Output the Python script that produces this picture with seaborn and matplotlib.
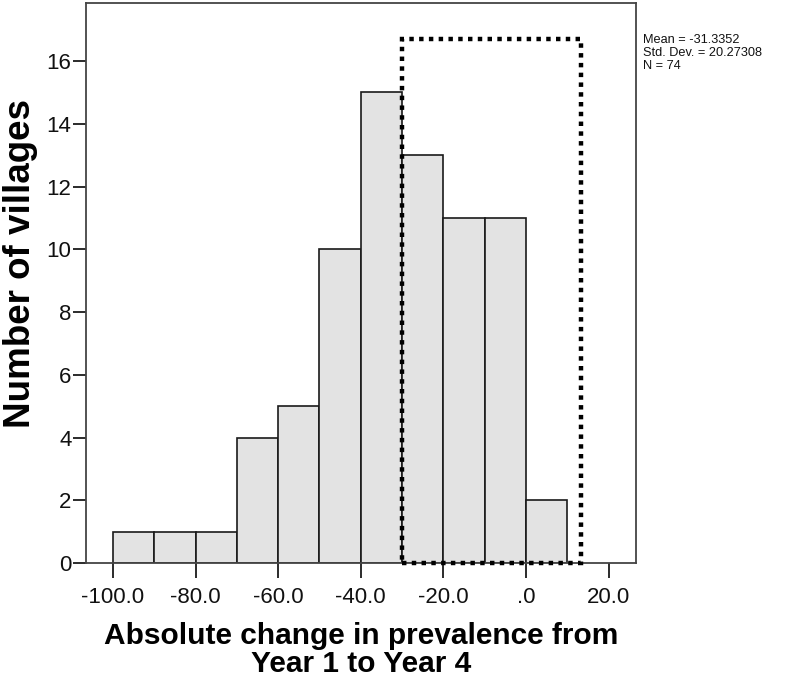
import matplotlib
matplotlib.use("Agg")
import matplotlib.pyplot as plt
import seaborn as sns
import numpy as np
import pandas as pd
from matplotlib.patches import Rectangle

# Data
bin_left = [-100, -90, -80, -70, -60, -50, -40, -30, -20, -10, 0]
counts = [1, 1, 1, 4, 5, 10, 15, 13, 11, 11, 2]
bin_width = 10
xtick_vals = [-100, -80, -60, -40, -20, 0, 20]
xtick_labels = ["-100.0", "-80.0", "-60.0", "-40.0", "-20.0", ".0", "20.0"]
ytick_vals = [0, 2, 4, 6, 8, 10, 12, 14, 16]
stats_text = "Mean = -31.3352\nStd. Dev. = 20.27308\nN = 74"
box_x = (-30, 13.3)
box_top = 16.7

sns.set_style("white")
plt.rcParams['font.family'] = ['Liberation Sans', 'DejaVu Sans']

df = pd.DataFrame({"center": np.array(bin_left) + bin_width / 2, "count": counts})
edges = list(bin_left) + [bin_left[-1] + bin_width]

fig = plt.figure(figsize=(7.89, 6.80), dpi=100)
ax = fig.add_axes([86/789, 1 - 563/680, (636-86)/789, (563-3)/680])

sns.histplot(data=df, x="center", weights="count", bins=edges, ax=ax,
             color="#e3e3e3", edgecolor="#1a1a1a", linewidth=1.2, alpha=1.0)

ax.set_xlim(-106.5, 26.6)
ax.set_ylim(0, 17.85)
ax.set_xticks(xtick_vals)
ax.set_xticklabels(xtick_labels)
ax.set_yticks(ytick_vals)
ax.tick_params(axis='both', which='major', labelsize=16, direction='out',
               width=1.3, color="#1a1a1a", labelcolor="#111111",
               bottom=True, left=True)
ax.tick_params(axis='y', length=9.5, pad=1)
ax.tick_params(axis='x', length=11, pad=6)
for s in ax.spines.values():
    s.set_color("#444444")
    s.set_linewidth(1.3)

ax.set_xlabel("Absolute change in prevalence from\nYear 1 to Year 4", fontsize=21.5,
              fontweight='bold', linespacing=1.0, labelpad=10, color="black")
ax.set_ylabel("Number of villages", fontsize=26.5, fontweight='bold', color="black")
ax.yaxis.set_label_coords(-0.087, 0.534)

# dotted highlight box
rect = Rectangle((box_x[0], 0), box_x[1] - box_x[0], box_top, fill=False,
                 edgecolor="black", linewidth=3.2, linestyle=(0, (1, 1.2)),
                 clip_on=False, zorder=5)
ax.add_patch(rect)

fig.text(643/789, 1 - 34/680, stats_text, fontsize=9.2, va='top', ha='left',
         linespacing=1.1, color="#111111")

fig.savefig("out.png", dpi=100)
